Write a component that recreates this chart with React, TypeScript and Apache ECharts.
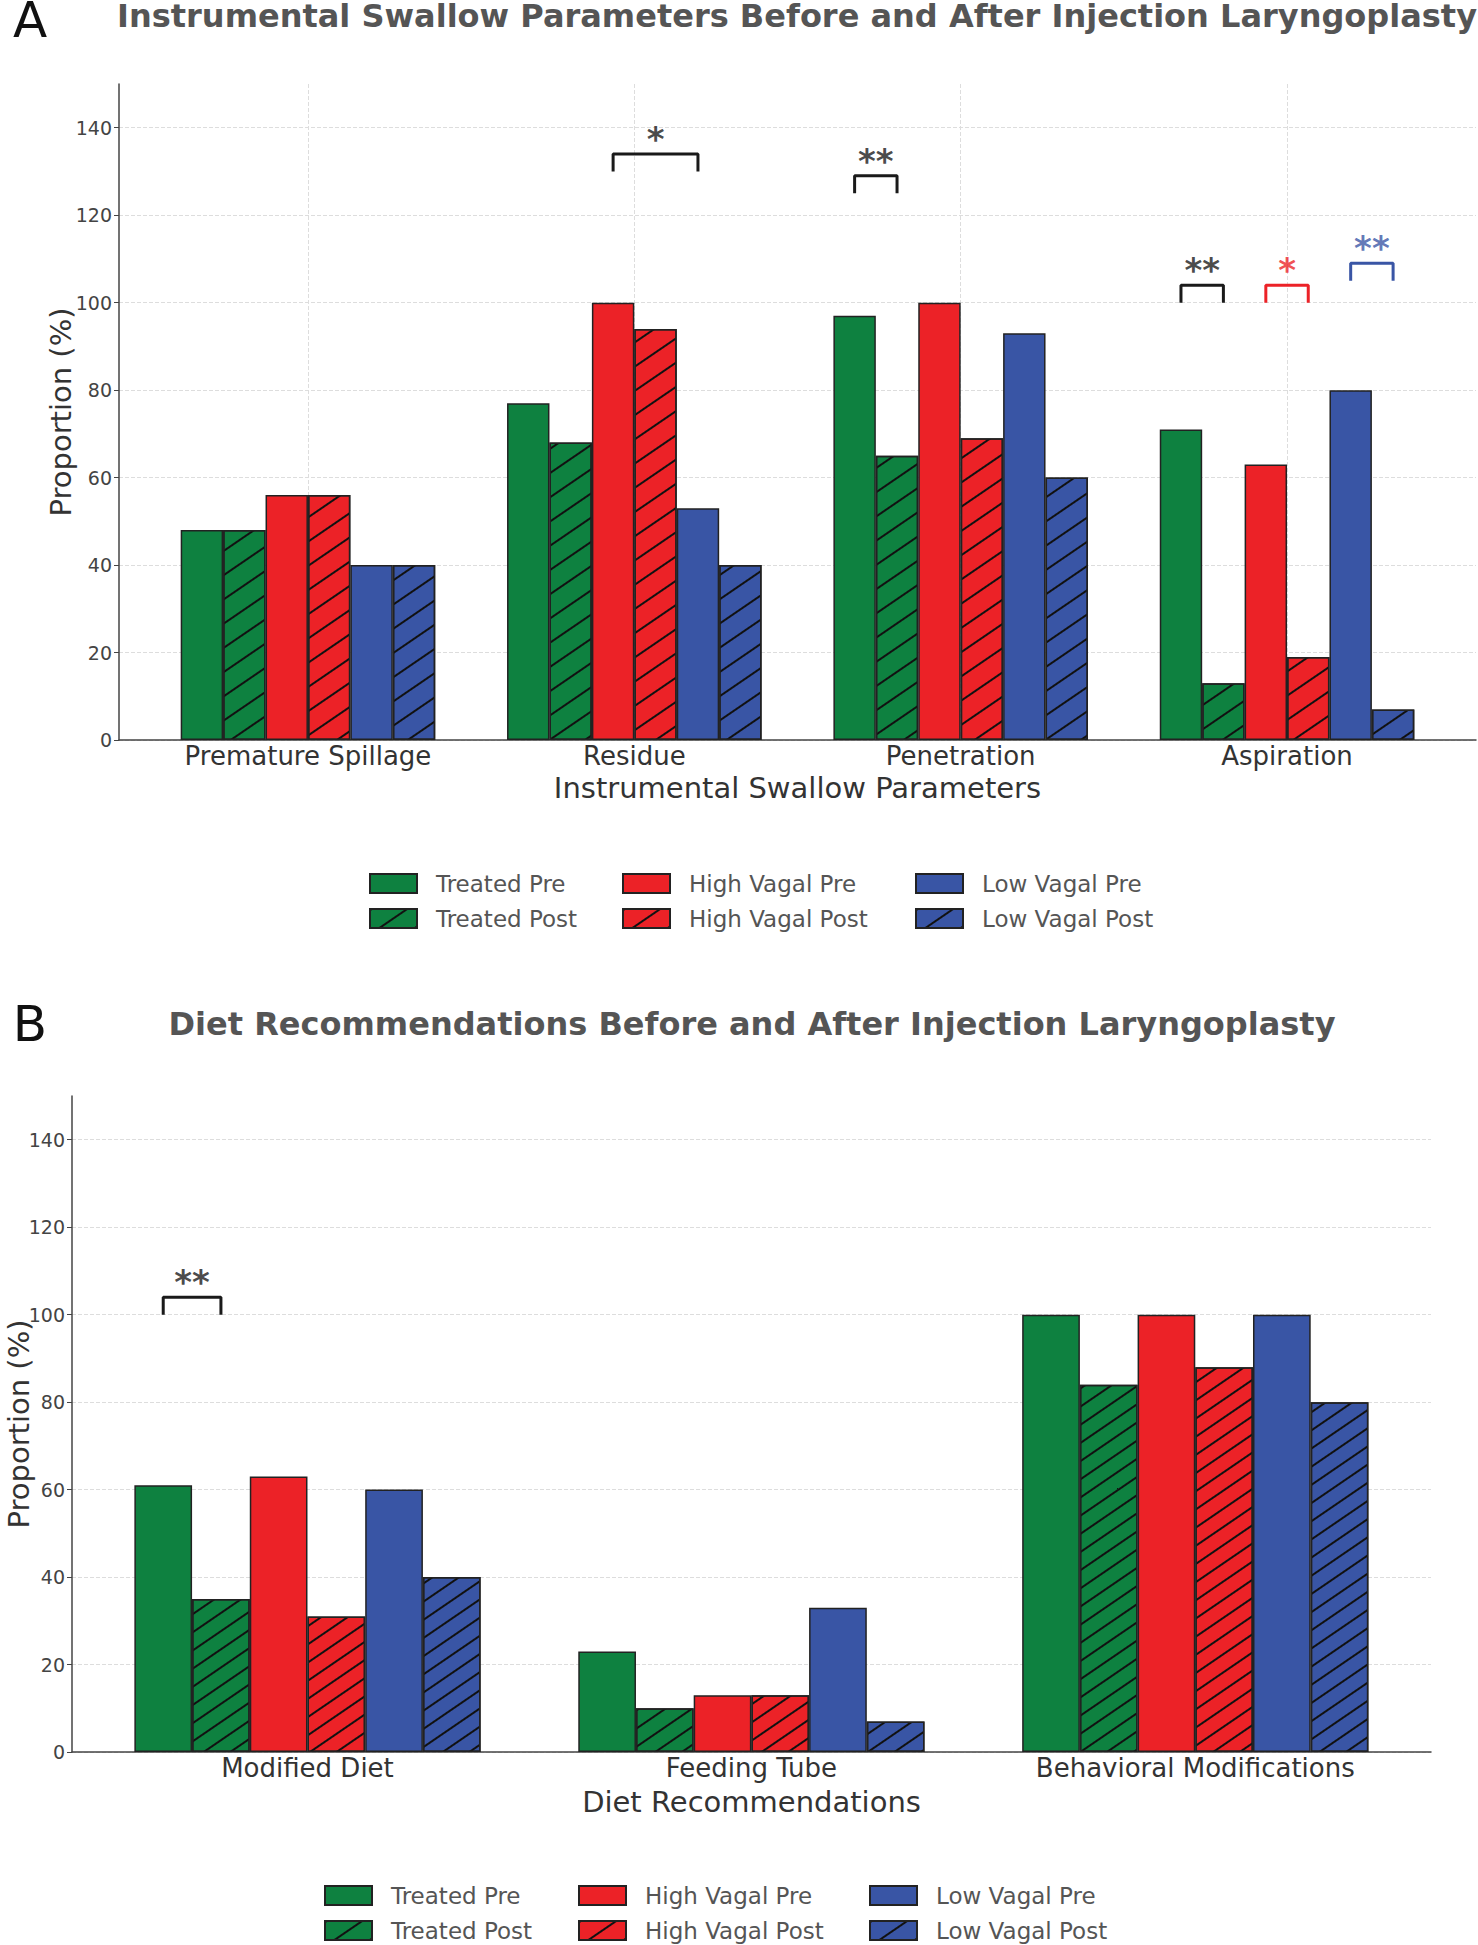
import React, { useEffect, useRef } from "react";
import * as echarts from "echarts";

// ---------- data ----------
const categoriesA = ["Premature Spillage", "Residue", "Penetration", "Aspiration"];
const treatedPreA = [48, 77, 97, 71];
const treatedPostA = [48, 68, 65, 13];
const highVagalPreA = [56, 100, 100, 63];
const highVagalPostA = [56, 94, 69, 19];
const lowVagalPreA = [40, 53, 93, 80];
const lowVagalPostA = [40, 40, 60, 7];

const categoriesB = ["Modified Diet", "Feeding Tube", "Behavioral Modifications"];
const treatedPreB = [61, 23, 100];
const treatedPostB = [35, 10, 84];
const highVagalPreB = [63, 13, 100];
const highVagalPostB = [31, 13, 88];
const lowVagalPreB = [60, 33, 100];
const lowVagalPostB = [40, 7, 80];

const yTickValues = [0, 20, 40, 60, 80, 100, 120, 140];

const seriesNames = [
  "Treated Pre",
  "Treated Post",
  "High Vagal Pre",
  "High Vagal Post",
  "Low Vagal Pre",
  "Low Vagal Post",
];

// significance brackets: category index, bar index from/to, bracket heights, label
const sigCatA = [1, 2, 3, 3, 3];
const sigFromA = [2, 0, 0, 2, 4];
const sigToA = [4, 1, 1, 3, 5];
const sigBottomA = [130, 125, 100, 100, 105];
const sigTopA = [134, 129, 104, 104, 109];
const sigLabelA = ["*", "**", "**", "*", "**"];
const sigColorA = ["#1a1a1a", "#1a1a1a", "#1a1a1a", "#EC2227", "#3955A5"];

const sigCatB = [0];
const sigFromB = [0];
const sigToB = [1];
const sigBottomB = [100];
const sigTopB = [104];
const sigLabelB = ["**"];
const sigColorB = ["#1a1a1a"];

const FONT = "DejaVu Sans";
const GREEN = "#0E8140";
const RED = "#EC2227";
const BLUE = "#3955A5";
const BAR_FRAC = 0.13;

export default function App() {
  const ref = useRef<HTMLDivElement>(null);

  useEffect(() => {
    if (!ref.current) return;
    const chart = echarts.init(ref.current, null, { renderer: "svg" });

    const hatch = (gap: number) => ({
      symbol: "rect",
      symbolSize: 1,
      color: "#111111",
      backgroundColor: null,
      dashArrayX: [1, 0],
      dashArrayY: [2, gap],
      rotation: -0.6,
    });

    const colors = [GREEN, GREEN, RED, RED, BLUE, BLUE];
    const dataA = [treatedPreA, treatedPostA, highVagalPreA, highVagalPostA, lowVagalPreA, lowVagalPostA];
    const dataB = [treatedPreB, treatedPostB, highVagalPreB, highVagalPostB, lowVagalPreB, lowVagalPostB];

    const makeBars = (data: number[][], axisIdx: number, gap: number) =>
      data.map((vals, k) => ({
        type: "bar",
        name: seriesNames[k],
        xAxisIndex: axisIdx,
        yAxisIndex: axisIdx,
        barWidth: BAR_FRAC * 100 + "%",
        barGap: "0%",
        z: 2,
        itemStyle: {
          color: colors[k],
          borderColor: "#222222",
          borderWidth: 1.5,
          decal: k % 2 === 1 ? hatch(gap) : undefined,
        },
        data: vals.map((v, i) => [i, v]),
      }));

    const offset = (k: number) => (k - 2.5) * BAR_FRAC;

    const makeSig = (
      cats: number[], from: number[], to: number[], bottom: number[], top: number[],
      labels: string[], cols: string[], axisIdx: number
    ) => {
      const out: any[] = [];
      cats.forEach((c, j) => {
        const x1 = c + offset(from[j]);
        const x2 = c + offset(to[j]);
        out.push({
          type: "line",
          name: "sig" + axisIdx + "_" + j,
          xAxisIndex: axisIdx,
          yAxisIndex: axisIdx,
          symbol: "none",
          silent: true,
          z: 5,
          lineStyle: { color: cols[j], width: 3 },
          data: [
            [x1, bottom[j]],
            [x1, top[j]],
            [x2, top[j]],
            [x2, bottom[j]],
          ],
        });
        out.push({
          type: "scatter",
          name: "sigLabel" + axisIdx + "_" + j,
          xAxisIndex: axisIdx,
          yAxisIndex: axisIdx,
          symbolSize: 0.01,
          silent: true,
          z: 5,
          itemStyle: { color: "transparent" },
          label: {
            show: true,
            position: "top",
            distance: -2,
            formatter: labels[j],
            color: cols[j],
            fontSize: 34,
            fontWeight: "bold",
            fontFamily: FONT,
          },
          data: [[(x1 + x2) / 2, top[j]]],
        });
      });
      return out;
    };

    const xAxisCommon = (cats: string[], min: number, max: number, gridIndex: number, name: string, vgrid: boolean, nameGap: number) => ({
      type: "value",
      gridIndex,
      min,
      max,
      name,
      nameLocation: "middle",
      nameGap,
      nameTextStyle: { fontSize: 29, color: "#333333", fontFamily: FONT },
      axisLine: { show: true, onZero: false, lineStyle: { color: "#444444", width: 1.5 } },
      axisTick: { show: false, customValues: cats.map((_, i) => i) },
      axisLabel: {
        customValues: cats.map((_, i) => i),
        formatter: (v: number) => cats[Math.round(v)] ?? "",
        fontSize: 26,
        color: "#333333",
        fontFamily: FONT,
        margin: 3,
        hideOverlap: false,
      },
      splitLine: {
        show: vgrid,
        lineStyle: { color: "#dddddd", width: 1, type: [4, 2] },
      },
    });

    const yAxisCommon = (gridIndex: number, nameGap: number) => ({
      type: "value",
      gridIndex,
      min: 0,
      max: 150,
      name: "Proportion (%)",
      nameLocation: "middle",
      nameGap,
      nameMoveOverlap: false,
      nameTextStyle: { fontSize: 29, color: "#333333", fontFamily: FONT },
      axisLine: { show: true, onZero: false, lineStyle: { color: "#444444", width: 1.5 } },
      axisTick: { show: true, length: 5, customValues: yTickValues, lineStyle: { color: "#444444" } },
      axisLabel: {
        customValues: yTickValues,
        fontSize: 19,
        color: "#444444",
        fontFamily: FONT,
        margin: 7,
      },
      splitLine: {
        show: true,
        lineStyle: { color: "#dddddd", width: 1, type: [4, 2] },
      },
    });

    const legendCol = (names: string[], left: number, top: number) => ({
      orient: "vertical",
      left,
      top,
      padding: 0,
      itemGap: 12,
      itemWidth: 47,
      itemHeight: 19,
      icon: "rect",
      selectedMode: false,
      textStyle: { fontSize: 23, color: "#555555", fontFamily: FONT, padding: [0, 0, 0, 14] },
      data: names,
    });

    const option: any = {
      animation: false,
      backgroundColor: "#ffffff",
      grid: [
        { left: 119, top: 84, width: 1357, height: 656, containLabel: false, outerBoundsMode: "none" },
        { left: 72, top: 1096, width: 1359, height: 656, containLabel: false, outerBoundsMode: "none" },
      ],
      xAxis: [
        xAxisCommon(categoriesA, -0.579, 3.579, 0, "Instrumental Swallow Parameters", true, 33),
        xAxisCommon(categoriesB, -0.5305, 2.531, 1, "Diet Recommendations", false, 35),
      ],
      yAxis: [yAxisCommon(0, 44), yAxisCommon(1, 39)],
      legend: [
        legendCol(["Treated Pre", "Treated Post"], 369, 872),
        legendCol(["High Vagal Pre", "High Vagal Post"], 622, 872),
        legendCol(["Low Vagal Pre", "Low Vagal Post"], 915, 872),
        legendCol(["Treated Pre", "Treated Post"], 324, 1884),
        legendCol(["High Vagal Pre", "High Vagal Post"], 578, 1884),
        legendCol(["Low Vagal Pre", "Low Vagal Post"], 869, 1884),
      ],
      graphic: [
        {
          type: "text", x: 30, y: 20,
          style: { text: "A", font: "50px 'DejaVu Sans'", fill: "#111111", textAlign: "center", textVerticalAlign: "middle" },
        },
        {
          type: "text", x: 30, y: 1024,
          style: { text: "B", font: "50px 'DejaVu Sans'", fill: "#111111", textAlign: "center", textVerticalAlign: "middle" },
        },
        {
          type: "text", x: 797, y: 16,
          style: {
            text: "Instrumental Swallow Parameters Before and After Injection Laryngoplasty",
            font: "bold 32px 'DejaVu Sans'", fill: "#555555", textAlign: "center", textVerticalAlign: "middle",
          },
        },
        {
          type: "text", x: 752, y: 1024,
          style: {
            text: "Diet Recommendations Before and After Injection Laryngoplasty",
            font: "bold 32px 'DejaVu Sans'", fill: "#555555", textAlign: "center", textVerticalAlign: "middle",
          },
        },
      ],
      series: [
        ...makeBars(dataA, 0, 18),
        ...makeBars(dataB, 1, 13),
        ...makeSig(sigCatA, sigFromA, sigToA, sigBottomA, sigTopA, sigLabelA, sigColorA, 0),
        ...makeSig(sigCatB, sigFromB, sigToB, sigBottomB, sigTopB, sigLabelB, sigColorB, 1),
      ],
    };

    chart.setOption(option);
    return () => chart.dispose();
  }, []);

  return (
    <div
      ref={ref}
      style={{ position: "absolute", left: 0, top: 0, width: 1478, height: 1945, background: "#fff" }}
    />
  );
}
